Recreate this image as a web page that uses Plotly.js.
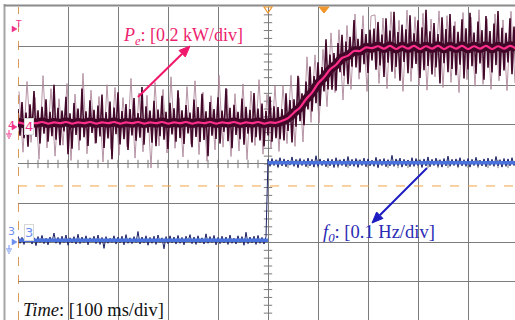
<!DOCTYPE html>
<html><head><meta charset="utf-8">
<script src="https://cdn.plot.ly/plotly-3.0.1.min.js"></script>
<style>html,body{margin:0;padding:0;background:#fff;}#chart{width:515px;height:320px;}</style>
</head><body><div id="chart"></div>
<script>
// Time in ms (100 ms/div), vertical values in screen divisions.
// Pe average trace, sampled every 12 ms from 0 ms
const peMean = [1.06,1.03,1.07,1.04,1.07,1.03,1.06,1.04,1.07,1.03,1.06,1.04,1.07,1.03,1.06,1.04,1.07,1.03,1.06,1.04,1.07,1.03,1.06,1.04,1.07,1.03,1.06,1.04,1.07,1.03,1.06,1.04,1.07,1.03,1.06,1.04,1.07,1.03,1.06,1.04,1.07,1.03,1.06,1.05,
1.10,1.17,1.31,1.44,1.65,1.82,2.05,2.21,2.41,2.53,2.70,2.76,2.88,2.88,2.97,2.95,
3.00,2.94,3.01,2.93,3.00,2.94,3.01,2.93,3.00,2.94,3.01,2.93,3.00,2.94,3.01,2.93,3.00,2.94,3.01,2.93,3.00,2.94,3.01,2.94];
// Pe raw trace (dark), every 4 ms from 0 ms
const peRawDark = [1.40,0.72,1.58,0.66,1.31,0.44,1.52,0.81,1.86,0.69,1.37,0.52,1.46,0.77,1.65,0.57,1.33,0.71,2.02,0.62,
1.43,0.48,1.36,0.83,1.71,0.25,1.29,0.39,1.55,0.74,1.41,0.60,1.92,0.68,1.34,0.46,1.62,0.79,1.38,0.53,
1.49,0.70,1.77,0.41,1.32,0.65,1.59,0.12,1.44,0.76,1.83,0.50,1.35,0.63,1.53,0.36,1.40,0.73,1.68,0.59,
1.30,0.67,1.96,0.49,1.47,0.80,1.36,0.54,1.61,0.45,1.39,0.71,1.74,0.62,1.33,0.38,1.56,0.75,1.42,0.57,
1.88,0.66,1.37,0.51,1.50,0.78,1.31,0.43,1.64,0.69,1.45,0.56,1.79,0.61,1.34,0.20,1.58,0.72,1.40,0.64,
1.70,0.52,1.36,0.82,1.93,0.58,1.43,0.40,1.51,0.74,1.33,0.63,1.67,0.49,1.46,0.77,1.38,0.55,1.81,0.68,
1.41,0.60,1.54,0.45,1.35,0.73,1.72,0.57,1.47,0.66,
1.45,0.63,1.40,0.60,1.80,0.84,1.63,0.55,1.65,0.95,2.25,1.09,1.80,0.99,2.10,1.39,2.48,1.34,2.24,1.55,
2.59,1.48,2.47,1.85,3.18,1.90,2.79,1.89,2.83,1.87,3.08,2.34,3.29,2.25,3.12,2.03,3.24,2.48,3.67,2.46,
3.19,2.33,3.44,2.54,3.31,2.32,3.42,2.64,
3.45,2.40,3.62,2.51,3.30,2.22,3.71,2.58,3.40,2.35,3.88,2.47,3.36,2.12,3.55,2.60,3.43,2.31,3.79,2.44,
3.33,2.55,3.66,2.19,3.48,2.39,3.93,2.50,3.38,2.28,3.59,2.46,3.31,2.05,3.74,2.57,3.44,2.34,3.82,2.42,
3.52,2.26,3.37,2.53,3.69,2.18,3.46,2.41,3.85,2.49,3.35,2.30,3.63,2.56,3.41,2.15,3.77,2.45,3.39,2.33,
3.58,2.52,3.90,2.24,3.47,2.38,3.34,2.59,3.71,2.29,3.50,2.43];
// Pe raw trace peaks (light), every 8 ms from 2 ms
const peRawLight = [1.85,0.30,2.10,0.55,1.70,0.12,2.25,0.41,1.92,0.20,1.66,0.48,2.05,0.09,1.78,0.35,2.31,0.26,1.88,0.52,
1.72,0.05,2.02,0.38,1.95,0.22,1.69,0.44,2.18,0.15,1.81,0.31,1.75,-0.10,2.08,0.46,1.90,0.28,2.22,0.40,
1.68,0.18,1.97,0.50,2.12,0.24,1.83,0.07,1.74,0.36,2.26,0.43,1.91,0.19,1.79,0.33,2.04,0.11,1.86,0.47,
2.15,0.25,1.77,0.39,1.99,
0.32,2.00,0.52,2.26,0.45,2.20,0.56,2.73,1.06,2.78,1.04,2.92,1.46,3.34,1.82,3.42,1.63,3.53,1.90,3.82,2.16,3.78,1.85,3.77,
3.80,2.05,3.72,1.92,3.88,2.18,3.66,1.85,3.92,2.10,3.75,2.00,3.84,1.88,3.69,2.22,3.90,1.95,3.78,2.08,
3.63,1.82,3.86,2.15,3.74,1.98,3.93,2.03,3.70,1.90,3.82,2.12,3.67,1.87,3.89,2.06];
// f0 average level (step at 500 ms)
const f0Time  = [0, 500, null, 500, 994];
const f0Level = [-1.94, -1.94, null, 0.03, 0.03];
// f0 raw trace, every 4 ms from 0 ms
const f0Raw = [-1.84,-2.02,-1.87,-2.05,-1.83,-1.99,-1.80,-2.04,-1.88,-2.08,-1.85,-2.00,-1.82,-2.03,-1.89,-2.06,-1.86,-1.98,-1.76,-2.02,
-1.87,-2.05,-1.84,-2.00,-1.81,-2.07,-1.88,-2.01,-1.85,-2.04,-1.79,-2.03,-1.86,-2.00,-1.83,-2.06,-1.88,-1.99,-1.84,-2.03,
-1.81,-2.05,-1.87,-2.15,-1.85,-2.02,-1.89,-2.00,-1.83,-2.04,-1.86,-2.01,-1.84,-2.06,-1.80,-2.02,-1.88,-2.03,-1.85,-2.00,
-1.72,-2.04,-1.86,-2.01,-1.83,-2.07,-1.87,-2.02,-1.84,-2.05,-1.81,-2.00,-1.88,-2.16,-1.85,-2.03,-1.83,-2.01,-1.86,-2.04,
-1.82,-2.02,-1.87,-2.06,-1.84,-1.99,-1.80,-2.03,-1.86,-2.05,-1.83,-2.01,-1.88,-2.04,-1.78,-2.02,-1.85,-2.00,-1.82,-2.06,
-1.87,-2.03,-1.84,-2.01,-1.86,-2.05,-1.81,-2.02,-1.89,-2.04,-1.83,-2.00,-1.85,-2.07,-1.74,-2.03,-1.86,-2.01,-1.84,-2.05,
-1.82,-2.02,-1.87,-2.04,-1.85,
0.12,-0.06,0.14,-0.04,0.11,-0.08,0.16,-0.05,0.13,-0.07,0.10,-0.03,0.18,-0.06,0.12,-0.09,0.14,-0.04,0.11,-0.07,
0.15,-0.05,0.12,-0.08,0.21,-0.06,0.13,-0.04,0.10,-0.07,0.14,-0.05,0.12,-0.09,0.16,-0.06,0.11,-0.04,0.13,-0.07,
0.19,-0.05,0.12,-0.06,0.14,-0.08,0.11,-0.04,0.15,-0.07,0.13,-0.05,0.10,-0.06,0.17,-0.09,0.12,-0.04,0.14,-0.07,
0.11,-0.05,0.22,-0.06,0.13,-0.04,0.15,-0.08,0.12,-0.05,0.10,-0.07,0.16,-0.06,0.14,-0.04,0.11,-0.09,0.13,-0.05,
0.18,-0.07,0.12,-0.04,0.15,-0.06,0.11,-0.08,0.14,-0.05,0.20,-0.06,0.12,-0.04,0.13,-0.07,0.16,-0.05,0.11,-0.06,
0.14,-0.08,0.12,-0.04,0.17,-0.06,0.10,-0.05,0.13,-0.07,0.15,-0.04,0.12,-0.06,0.19,-0.05,0.11,-0.08,0.14,-0.06,
0.13,-0.05,0.16,-0.04,0.12];
const peLabel   = '<i>P<sub>e</sub></i>: [0.2 kW/div]';
const f0Label   = '<i>f<sub>0</sub></i>: [0.1 Hz/div]';
const timeLabel = '<i>Time</i>: [100 ms/div]';

// ---- layout geometry (pixels) ----
const W = 515, H = 320, L = 18, T = 7;
const PW = W - L, PH = H - T;
const px = v => (v - L) / PW;      // pixel x -> paper
const py = v => (H - v) / PH;      // pixel y -> paper

const gridCol = '#7c7c7c';
const tickX = [], tickXY = [], tickY = [], tickYX = [];
for (let i = 1; i < 50; i++) { tickX.push(i * 20); tickXY.push(0); }
for (let j = -19; j <= 19; j++) { tickY.push(j * 0.2); tickYX.push(500); }

const traces = [
  {x: tickX, y: tickXY, mode: 'markers', hoverinfo: 'skip',
   marker: {symbol: 'line-ns', size: 6, line: {color: gridCol, width: 1}}},
  {x: tickYX, y: tickY, mode: 'markers', hoverinfo: 'skip',
   marker: {symbol: 'line-ew', size: 6, line: {color: gridCol, width: 1}}},
  {y: peRawLight, x0: 2, dx: 8, mode: 'lines', line: {color: 'rgba(170,130,150,0.85)', width: 1}},
  {y: peMean, x0: 0, dx: 12, mode: 'lines', line: {color: '#3a0520', width: 9, shape: 'spline'}},
  {y: peRawDark, x0: 0, dx: 4, mode: 'lines', line: {color: '#43092a', width: 1.6}},
  {y: peMean, x0: 0, dx: 12, mode: 'lines', line: {color: '#ff2e8a', width: 2.2, shape: 'spline'}},
  {y: f0Raw, x0: 0, dx: 4, mode: 'lines', line: {color: '#1b2266', width: 1}},
  {x: f0Time, y: f0Level, mode: 'lines', line: {color: '#4a72dc', width: 3.5}}
];

const serif = 'Liberation Serif, Times New Roman, serif';
const sans = 'DejaVu Sans, Arial, sans-serif';
const ann = [
  {x: 330, y: 3.24, text: peLabel, showarrow: false, font: {family: serif, size: 18, color: '#ec1f6e'}},
  {x: 722, y: -1.76, text: f0Label, showarrow: false, font: {family: serif, size: 18.5, color: '#2a2ab4'}},
  {x: 151, y: -3.72, text: timeLabel, showarrow: false, font: {family: serif, size: 18.5, color: '#111'}},
  // left channel markers
  {xref: 'paper', yref: 'paper', x: px(13), y: py(17), text: 'T', showarrow: false, font: {family: sans, size: 9, color: '#f0338a'}},
  {xref: 'paper', yref: 'paper', x: px(6), y: py(125), text: '4', showarrow: false, font: {family: sans, size: 11, color: '#f0338a'}},
  {xref: 'paper', yref: 'paper', x: px(23.5), y: py(126), text: '4', showarrow: false, bgcolor: '#ffffff', bordercolor: '#d8d8d8', borderwidth: 1, borderpad: 0, font: {family: sans, size: 13, color: '#f0338a'}},
  {xref: 'paper', yref: 'paper', x: px(6), y: py(240), text: '3', showarrow: false, font: {family: sans, size: 11, color: '#6e8ef0'}},
  {xref: 'paper', yref: 'paper', x: px(23.5), y: py(241), text: '3', showarrow: false, bgcolor: '#ffffff', bordercolor: '#d8d8d8', borderwidth: 1, borderpad: 0, font: {family: sans, size: 13, color: '#6e8ef0'}}
];

const P = (pts) => 'M' + pts.map(p => px(p[0]) + ',' + py(p[1])).join(' L') + ' Z';
// pointer arrow (pixel tail -> pixel tip) as a line plus a filled head
const arrow = (tail, tip, col) => {
  const dx = tip[0] - tail[0], dy = tip[1] - tail[1], len = Math.hypot(dx, dy);
  const ux = dx / len, uy = dy / len, hl = 11, hw = 4.5;
  const bx = tip[0] - hl * ux, by = tip[1] - hl * uy;
  return [
    {type: 'line', xref: 'paper', yref: 'paper', x0: px(tail[0]), y0: py(tail[1]), x1: px(bx), y1: py(by), line: {color: col, width: 2}},
    {type: 'path', xref: 'paper', yref: 'paper', path: P([tip, [bx - hw * uy, by + hw * ux], [bx + hw * uy, by - hw * ux]]), fillcolor: col, line: {color: col, width: 1}}
  ];
};
const gnd = (cy, col) => [
  {type: 'line', xref: 'paper', yref: 'paper', x0: px(9), x1: px(9), y0: py(cy + 3), y1: py(cy + 7), line: {color: col, width: 1}},
  {type: 'line', xref: 'paper', yref: 'paper', x0: px(6), x1: px(12), y0: py(cy + 7), y1: py(cy + 7), line: {color: col, width: 1}},
  {type: 'line', xref: 'paper', yref: 'paper', x0: px(7), x1: px(11), y0: py(cy + 9), y1: py(cy + 9), line: {color: col, width: 1}},
  {type: 'line', xref: 'paper', yref: 'paper', x0: px(8), x1: px(10), y0: py(cy + 11), y1: py(cy + 11), line: {color: col, width: 1}},
  {type: 'path', xref: 'paper', yref: 'paper', path: P([[12, cy - 3], [17, cy], [12, cy + 3]]), fillcolor: col, line: {color: col, width: 0.5}}
];

const shapes = [
  {type: 'line', xref: 'paper', yref: 'paper', x0: px(4.5), x1: px(4.5), y0: py(4), y1: py(320), line: {color: '#a6a6a6', width: 2}},
  {type: 'line', xref: 'paper', yref: 'paper', x0: px(4), x1: px(515), y0: py(5.5), y1: py(5.5), line: {color: '#8a8a8a', width: 2}},
  {type: 'line', xref: 'x', yref: 'paper', x0: 0, x1: 0, y0: 0, y1: 1, line: {color: '#d07a28', width: 1.5, dash: 'dash'}},
  {type: 'line', xref: 'paper', yref: 'y', x0: 0, x1: 1, y0: -0.56, y1: -0.56, line: {color: '#f2a444', width: 1, dash: 'dash'}},
  {type: 'path', xref: 'paper', yref: 'paper', path: P([[12, 26], [17, 29], [12, 32]]), fillcolor: '#f0338a', line: {color: '#f0338a', width: 0.5}},
  {type: 'path', xref: 'paper', yref: 'paper', path: P([[264, 7], [272, 7], [268, 13]]), line: {color: '#f0962a', width: 1.2}},
  {type: 'path', xref: 'paper', yref: 'paper', path: P([[319, 7], [329, 7], [324, 13]]), fillcolor: '#f0962a', line: {color: '#f0962a', width: 1}},
  ...arrow([138, 97], [190, 46], '#f0186c'),
  ...arrow([427, 168], [372, 223], '#1c1cc0'),
  ...gnd(127, '#f0338a'), ...gnd(242, '#6e8ef0')
];

const layout = {
  width: W, height: H, margin: {l: L, r: 0, t: T, b: 0, pad: 0},
  paper_bgcolor: '#ffffff', plot_bgcolor: '#ffffff', showlegend: false,
  xaxis: {range: [0, 994], tick0: 0, dtick: 100, showgrid: true, gridcolor: gridCol, gridwidth: 1,
          zeroline: false, showticklabels: false, ticks: '', showline: false, fixedrange: true},
  yaxis: {range: [-3.975, 4], tick0: 0, dtick: 1, showgrid: true, gridcolor: gridCol, gridwidth: 1,
          zeroline: false, showticklabels: false, ticks: '', showline: false, fixedrange: true},
  annotations: ann, shapes: shapes
};
Plotly.newPlot('chart', traces, layout, {displayModeBar: false, staticPlot: true});
</script></body></html>
